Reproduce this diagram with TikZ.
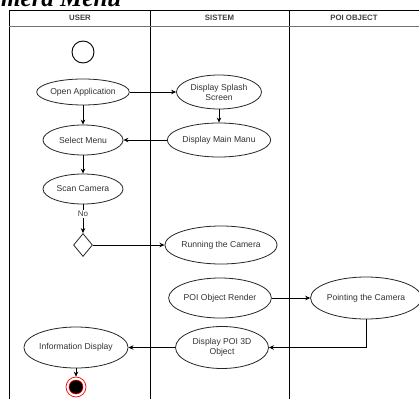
\documentclass[tikz,border=0pt]{standalone}
\usepackage{fontspec}
\setmainfont{Liberation Serif}
\newfontfamily\arialf{Liberation Sans}
\usetikzlibrary{shapes.geometric,arrows.meta}
\begin{document}
\begin{tikzpicture}[x=1pt,y=-1pt,
 act/.style={ellipse, draw=black!85, line width=0.8pt, fill=white, inner sep=0pt, font=\arialf\fontsize{8.6}{10}\selectfont, text=black!80, align=center},
 flow/.style={draw=black, line width=0.8pt, -{Stealth[length=5pt,width=4.5pt]}},
 lane/.style={draw=black, line width=0.8pt},
 hdr/.style={font=\arialf\bfseries\fontsize{7.8}{9}\selectfont, text=black!75},
 lbl/.style={fill=white, inner sep=1pt, font=\arialf\fontsize{8}{9}\selectfont, text=black!75}]
\useasboundingbox (0,0) rectangle (419,398);
\clip (0,0) rectangle (419,398);
% title fragment
\node[anchor=base west, inner sep=0pt, font=\bfseries\itshape\fontsize{25}{25}\selectfont] (title) at (1,7) {mera Menu};
% swimlanes
\draw[lane] (9,402) -- (9,10) -- (425,10);
\draw[lane] (150,10) -- (150,402);
\draw[lane] (289,10) -- (289,402);
\draw[draw=black!55, line width=0.8pt] (9,26) -- (425,26);
\node[hdr] (h1) at (80,18) {USER};
\node[hdr] (h2) at (219.5,18) {SISTEM};
\node[hdr] (h3) at (354,18) {POI OBJECT};
% start
\node[circle, draw=black, line width=0.9pt, minimum size=22pt, inner sep=0pt] (start) at (83,52) {};
% activities
\node[act, minimum width=80pt, minimum height=26pt] (open) at (83,92) {Open Application};
\node[act, minimum width=80pt, minimum height=30pt] (select) at (83,140) {Select Menu};
\node[act, minimum width=80pt, minimum height=30pt] (scan) at (83,189) {Scan Camera};
\node[act, minimum width=85pt, minimum height=34pt] (splash) at (219,92) {Display Splash\\Screen};
\node[act, minimum width=87pt, minimum height=34pt] (mainmenu) at (219,140) {Display Main Manu};
\node[diamond, draw=black!85, line width=0.8pt, fill=white, minimum width=19pt, minimum height=23pt, inner sep=0pt] (dec) at (83,245) {};
\node[act, minimum width=88pt, minimum height=38pt] (run) at (221,245) {Running the Camera};
\node[act, minimum width=85pt, minimum height=40pt] (render) at (220,298) {POI Object Render};
\node[act, minimum width=85pt, minimum height=42pt] (point) at (366,298) {Pointing the Camera};
\node[act, minimum width=93pt, minimum height=42pt] (d3d) at (222,347.5) {Display POI 3D\\Object};
\node[act, minimum width=84pt, minimum height=41pt] (info) at (76,347.5) {Information Display};
% end
\node[circle, draw=red, line width=0.7pt, fill=white, minimum size=20pt, inner sep=0pt] (endo) at (76,387) {};
\node[circle, draw=red, line width=0.5pt, fill=black, minimum size=14pt, inner sep=0pt] (endi) at (76,387) {};
% flows
\draw[flow] (open.south) -- (select.north);
\draw[flow] (open.east) -- (splash.west);
\draw[flow] (splash.south) -- (mainmenu.north);
\draw[flow] (mainmenu.west) -- (select.east);
\draw[flow] (select.south) -- (scan.north);
\draw[flow] (scan.south) -- node[lbl, pos=0.33] (no) {No} (dec.north);
\draw[flow] (dec.east) -- (run.west);
\draw[flow] (render.east) -- (point.west);
\draw[flow] (point.south) |- (d3d.east);
\draw[flow] (d3d.west) -- (info.east);
\draw[flow] (info.south) -- (endo.north);
\end{tikzpicture}
\end{document}
